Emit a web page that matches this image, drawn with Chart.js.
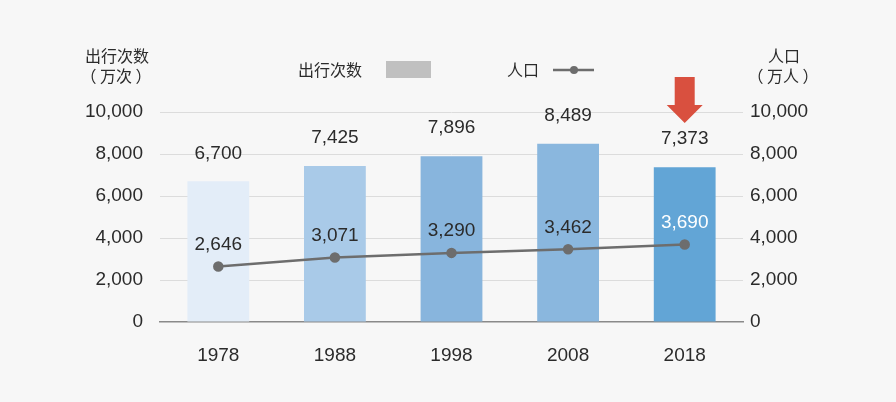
<!DOCTYPE html>
<html><head><meta charset="utf-8">
<script src="https://cdn.jsdelivr.net/npm/chart.js@4"></script>
<style>html,body{margin:0;padding:0;background:#f7f7f7;}#c{display:block;}</style>
</head><body>
<canvas id="c" width="896" height="402"></canvas>
<script>
const years = ['1978','1988','1998','2008','2018'];
const trips = [6700, 7425, 7896, 8489, 7373];
const population = [2646, 3071, 3290, 3462, 3690];
const barColors = ['#e3edf8','#a9cae8','#88b5dd','#8ab7de','#62a5d6'];
const yTicks = [0, 2000, 4000, 6000, 8000, 10000];

const FONT = '"Liberation Sans", Arial, sans-serif';
const CJK = '"Noto Sans CJK SC", "Liberation Sans", sans-serif';
const fmt = v => v.toLocaleString('en-US');

const deco = {
  id: 'deco',
  afterDatasetsDraw(chart) {
    const ctx = chart.ctx;
    ctx.save();
    ctx.textAlign = 'center';
    ctx.textBaseline = 'middle';
    ctx.font = '19px ' + FONT;
    chart.getDatasetMeta(0).data.forEach((el, i) => {
      ctx.fillStyle = '#2b2b2b';
      ctx.fillText(fmt(trips[i]), el.x, el.y - 28);
    });
    chart.getDatasetMeta(1).data.forEach((el, i) => {
      ctx.fillStyle = i === population.length - 1 ? '#ffffff' : '#2b2b2b';
      ctx.fillText(fmt(population[i]), el.x, el.y - 22);
    });
    ctx.font = '16px ' + CJK;
    ctx.fillStyle = '#2b2b2b';
    ctx.fillText('出行次数', 117, 56);
    ctx.fillText('（ 万次 ）', 116, 76);
    ctx.fillText('人口', 784, 56);
    ctx.fillText('（ 万人 ）', 783, 76);
    ctx.textAlign = 'left';
    ctx.fillText('出行次数', 298, 70);
    ctx.fillStyle = '#c0c0c0';
    ctx.fillRect(386, 61, 45, 17);
    ctx.fillStyle = '#2b2b2b';
    ctx.fillText('人口', 507, 70);
    ctx.strokeStyle = '#6d6d6d';
    ctx.lineWidth = 2.5;
    ctx.beginPath(); ctx.moveTo(553, 70); ctx.lineTo(594, 70); ctx.stroke();
    ctx.fillStyle = '#6d6d6d';
    ctx.beginPath(); ctx.arc(574, 70, 4, 0, Math.PI * 2); ctx.fill();
    const last = chart.getDatasetMeta(0).data[trips.length - 1];
    const cx = last.x;
    ctx.fillStyle = '#d9503f';
    ctx.beginPath();
    ctx.moveTo(cx - 10, 77); ctx.lineTo(cx + 10, 77); ctx.lineTo(cx + 10, 105);
    ctx.lineTo(cx + 18, 105); ctx.lineTo(cx, 123); ctx.lineTo(cx - 18, 105);
    ctx.lineTo(cx - 10, 105); ctx.closePath(); ctx.fill();
    ctx.restore();
  }
};

new Chart(document.getElementById('c'), {
  data: {
    labels: years,
    datasets: [
      { type: 'bar', data: trips, backgroundColor: barColors, yAxisID: 'y', barPercentage: 0.53, categoryPercentage: 1, order: 2 },
      { type: 'line', data: population, yAxisID: 'y1', borderColor: '#6d6d6d', backgroundColor: '#6d6d6d',
        borderWidth: 2.5, pointRadius: 4, pointHoverRadius: 4, order: 1 }
    ]
  },
  options: {
    responsive: false,
    animation: false,
    events: [],
    layout: { padding: { top: 112, left: 0, right: 0, bottom: 0 } },
    plugins: { legend: { display: false }, tooltip: { enabled: false } },
    scales: {
      x: {
        grid: { display: false },
        border: { display: true, color: '#8a8a8a', width: 1.5 },
        ticks: { color: '#2b2b2b', font: { size: 19, family: FONT }, padding: 14 },
        afterFit(s) { s.height = 80; }
      },
      y: {
        position: 'left', min: 0, max: 10000,
        afterBuildTicks(s) { s.ticks = yTicks.map(v => ({ value: v })); },
        grid: { color: c => c.tick.value === 0 ? 'rgba(0,0,0,0)' : '#dcdcdc', drawTicks: false },
        border: { display: false },
        ticks: { color: '#2b2b2b', font: { size: 19, family: FONT }, padding: 17, callback: v => fmt(v) },
        afterFit(s) { s.width = 160; }
      },
      y1: {
        position: 'right', min: 0, max: 10000,
        afterBuildTicks(s) { s.ticks = yTicks.map(v => ({ value: v })); },
        grid: { display: false, drawTicks: false },
        border: { display: false },
        ticks: { color: '#2b2b2b', font: { size: 19, family: FONT }, padding: 7, callback: v => fmt(v) },
        afterFit(s) { s.width = 153; }
      }
    }
  },
  plugins: [deco]
});
</script>
</body></html>
